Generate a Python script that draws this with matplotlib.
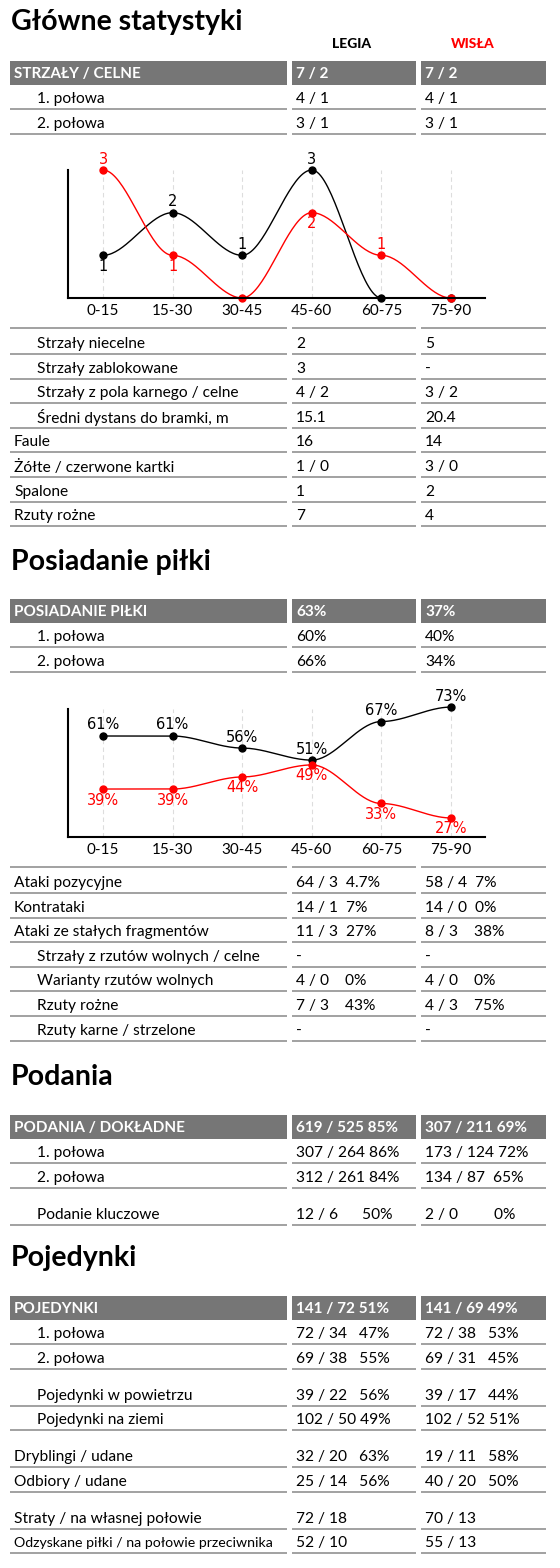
import matplotlib
matplotlib.use("Agg")
import matplotlib.pyplot as plt
import numpy as np

FONT = ["Lato", "DejaVu Sans"]
plt.rcParams['font.family'] = FONT

periods = ["0-15", "15-30", "30-45", "45-60", "60-75", "75-90"]
shots_legia = [1, 2, 1, 3, 0, 0]
shots_wisla = [3, 1, 0, 2, 1, 0]
poss_legia = [61, 61, 56, 51, 67, 73]
poss_wisla = [39, 39, 44, 49, 33, 27]

team_names = ["LEGIA", "WISŁA"]
section_titles = ["Główne statystyki", "Posiadanie piłki", "Podania", "Pojedynki"]

# (label, indent, legia, wisla)
sec1_header = ("STRZAŁY / CELNE", "7 / 2", "7 / 2")
sec1_top = [("1. połowa", 1, "4 / 1", "4 / 1"), ("2. połowa", 1, "3 / 1", "3 / 1")]
sec1_rows = [("Strzały niecelne", 1, "2", "5"),
             ("Strzały zablokowane", 1, "3", "-"),
             ("Strzały z pola karnego / celne", 1, "4 / 2", "3 / 2"),
             ("Średni dystans do bramki, m", 1, "15.1", "20.4"),
             ("Faule", 0, "16", "14"),
             ("Żółte / czerwone kartki", 0, "1 / 0", "3 / 0"),
             ("Spalone", 0, "1", "2"),
             ("Rzuty rożne", 0, "7", "4")]
sec2_header = ("POSIADANIE PIŁKI", "63%", "37%")
sec2_top = [("1. połowa", 1, "60%", "40%"), ("2. połowa", 1, "66%", "34%")]
sec2_rows = [("Ataki pozycyjne", 0, "64 / 3  4.7%", "58 / 4  7%"),
             ("Kontrataki", 0, "14 / 1  7%", "14 / 0  0%"),
             ("Ataki ze stałych fragmentów", 0, "11 / 3  27%", "8 / 3    38%"),
             ("Strzały z rzutów wolnych / celne", 1, "-", "-"),
             ("Warianty rzutów wolnych", 1, "4 / 0    0%", "4 / 0    0%"),
             ("Rzuty rożne", 1, "7 / 3    43%", "4 / 3    75%"),
             ("Rzuty karne / strzelone", 1, "-", "-")]
sec3_header = ("PODANIA / DOKŁADNE", "619 / 525 85%", "307 / 211 69%")
sec3_rows = [("1. połowa", 1, "307 / 264 86%", "173 / 124 72%"),
             ("2. połowa", 1, "312 / 261 84%", "134 / 87  65%"),
             None,
             ("Podanie kluczowe", 1, "12 / 6      50%", "2 / 0         0%")]
sec4_header = ("POJEDYNKI", "141 / 72 51%", "141 / 69 49%")
sec4_rows = [("1. połowa", 1, "72 / 34   47%", "72 / 38   53%"),
             ("2. połowa", 1, "69 / 38   55%", "69 / 31   45%"),
             None,
             ("Pojedynki w powietrzu", 1, "39 / 22   56%", "39 / 17   44%"),
             ("Pojedynki na ziemi", 1, "102 / 50 49%", "102 / 52 51%"),
             None,
             ("Dryblingi / udane", 0, "32 / 20   63%", "19 / 11   58%"),
             ("Odbiory / udane", 0, "25 / 14   56%", "40 / 20   50%"),
             None,
             ("Straty / na własnej połowie", 0, "72 / 18", "70 / 13"),
             ("Odzyskane piłki / na połowie przeciwnika", 0, "52 / 10", "55 / 13")]

W, H = 560, 1568
fig = plt.figure(figsize=(W / 100, H / 100), dpi=100)
ax = fig.add_axes([0, 0, 1, 1])
ax.set_xlim(0, W)
ax.set_ylim(H, 0)
ax.axis("off")

COLS = [(10, 287), (292, 416), (421, 546)]
ROW_H = 24.6
GAP = 12.4
GREY = "#767676"
LINE = "#9a9a9a"
FS = 11.2


def title(text, y):
    ax.text(11, y, text, fontsize=20.5, fontweight="bold", va="center", ha="left")


def header(row, y):
    for (x0, x1), t in zip(COLS, row):
        ax.add_patch(plt.Rectangle((x0, y - 11), x1 - x0, 24, color=GREY, lw=0))
        ax.text(x0 + 4, y + 2, t, color="white", fontsize=11, fontweight="bold", va="center")


def row(r, y):
    lab, ind, a, b = r
    ax.text(COLS[0][0] + 4 + 23 * ind, y, lab, fontsize=FS if len(lab) < 35 else 10.2, va="center")
    ax.text(COLS[1][0] + 4, y, a, fontsize=FS, va="center")
    ax.text(COLS[2][0] + 4, y, b, fontsize=FS, va="center")
    sep(y + 10)


def sep(y):
    for x0, x1 in COLS:
        ax.plot([x0, x1], [y, y], color=LINE, lw=1.3, solid_capstyle="butt")


def rows(rs, y):
    for r in rs:
        if r is not None:
            row(r, y)
            y += ROW_H
        else:
            y += GAP
    return y


def smooth(vals):
    xs, ys = [], []
    t = np.linspace(0, 1, 40)
    s = t * t * (3 - 2 * t)
    for i in range(len(vals) - 1):
        xs.append(i + t)
        ys.append(vals[i] + (vals[i + 1] - vals[i]) * s)
    return np.concatenate(xs), np.concatenate(ys)


def chart(top, bottom, ylim, series, fmt, offsets):
    l, r = 68, 485
    cax = fig.add_axes([l / W, 1 - bottom / H, (r - l) / W, (bottom - top) / H])
    unit = (451 - 103) / 5
    cax.set_xlim(-(103 - l) / unit, 5 + (r - 451) / unit)
    cax.set_ylim(*ylim)
    cax.patch.set_alpha(0)
    for sp in ["top", "right"]:
        cax.spines[sp].set_visible(False)
    for sp in ["left", "bottom"]:
        cax.spines[sp].set_linewidth(1.5)
    cax.set_yticks([])
    cax.set_xticks(range(6))
    cax.set_xticklabels(periods, fontsize=11)
    cax.tick_params(axis="x", length=0, pad=4)
    for i in range(6):
        cax.axvline(i, color="#dddddd", lw=0.8, ls=(0, (4, 3)), zorder=0)
    pxu = (bottom - top) / (ylim[1] - ylim[0])
    for (vals, col), offs in zip(series, offsets):
        xs, ys = smooth(vals)
        cax.plot(xs, ys, color=col, lw=1, clip_on=False)
        cax.plot(range(6), vals, "o", color=col, ms=5, clip_on=False)
        for i, v in enumerate(vals):
            if offs[i] == 0:
                continue
            cax.text(i, v + offs[i] * 11 / pxu, fmt(v), color=col, fontsize=10.5,
                     ha="center", va="center", family=["DejaVu Sans"])


# Section 1
title(section_titles[0], 22)
ax.text(352, 44, team_names[0], fontsize=10, fontweight="black", ha="center", va="center")
ax.text(473, 44, team_names[1], fontsize=10, fontweight="black", ha="center", va="center", color="#ff0000")
header(sec1_header, 72)
rows(sec1_top, 99)
chart(170, 298, (0, 3), [(shots_legia, "black"), (shots_wisla, "#ff0000")], str,
      [[-1, 1, 1, 1, 0, 0], [1, -1, 0, -1, 1, 0]])
sep(328)
rows(sec1_rows, 344)

# Section 2
title(section_titles[1], 562)
header(sec2_header, 610)
rows(sec2_top, 637)
chart(709, 837, (19.1, 72.2), [(poss_legia, "black"), (poss_wisla, "#ff0000")],
      lambda v: f"{v}%", [[1] * 6, [-1] * 6])
sep(867)
rows(sec2_rows, 883)

# Section 3
title(section_titles[2], 1077)
header(sec3_header, 1126)
rows(sec3_rows, 1153)

# Section 4
title(section_titles[3], 1258)
header(sec4_header, 1307)
rows(sec4_rows, 1334)

fig.savefig("out.png", dpi=100)
